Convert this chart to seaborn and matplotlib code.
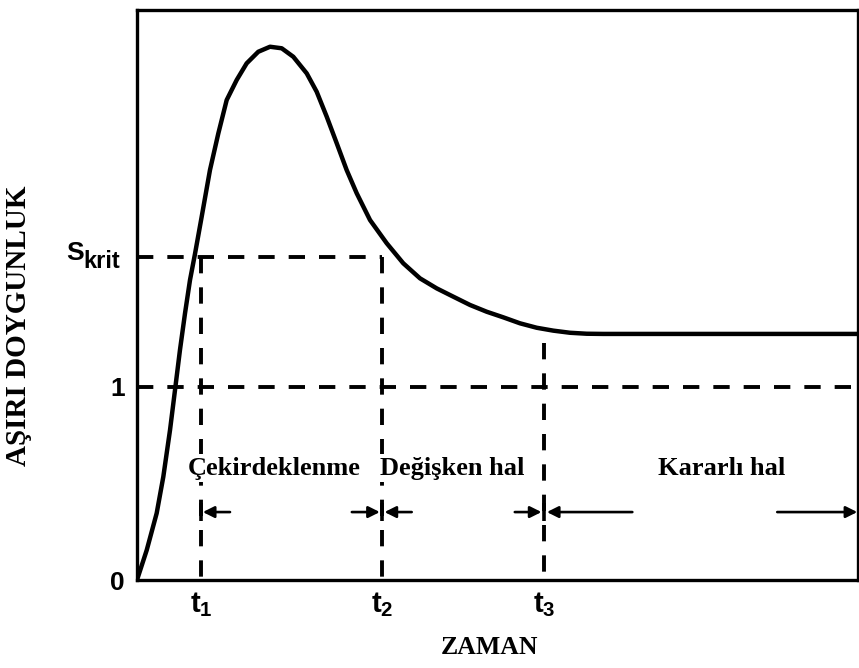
import matplotlib
matplotlib.use("Agg")
import matplotlib.pyplot as plt
import seaborn as sns
import pandas as pd

# Supersaturation vs. time (LaMer-type curve)
time = [0.00, 1.35, 2.73, 3.65, 4.58, 5.27, 5.96, 6.66, 7.35, 8.04, 8.97,
        10.12, 11.28, 12.44, 13.83, 15.21, 16.82, 18.45, 20.07, 21.68, 23.54,
        24.92, 26.31, 27.70, 29.08, 30.47, 32.32, 34.63, 36.93, 39.25, 41.57,
        43.87, 46.19, 48.50, 50.80, 53.12, 55.44, 57.74, 60.06, 62.37, 64.67,
        99.86]
supersaturation = [0.000, 0.155, 0.346, 0.535, 0.777, 0.984, 1.192, 1.382,
                   1.554, 1.689, 1.882, 2.124, 2.314, 2.487, 2.591, 2.677,
                   2.737, 2.763, 2.755, 2.711, 2.625, 2.530, 2.401, 2.263,
                   2.124, 2.004, 1.865, 1.745, 1.641, 1.563, 1.511, 1.468,
                   1.425, 1.390, 1.361, 1.330, 1.307, 1.292, 1.281, 1.276,
                   1.275, 1.275]

S_KRIT = 1.675
y_ticks = [0, 1, S_KRIT]
y_tick_labels = ["0", "1", ""]
s_krit_label = ("S", "krit")
t_marks = [8.88, 33.98, 56.45]
t_labels = ["t$_1$", "t$_2$", "t$_3$"]
phase_labels = ["Çekirdeklenme", "Değişken hal", "Kararlı hal"]
x_title = "ZAMAN"
y_title = "AŞIRI DOYGUNLUK"

sns.set_style("white")
plt.rcParams.update({
    "mathtext.default": "regular",
    "text.color": "black",
    "axes.labelcolor": "black",
    "xtick.color": "black",
    "ytick.color": "black",
})
plt.rcParams["font.family"] = ["Liberation Sans", "DejaVu Sans"]

df = pd.DataFrame({"t": time, "S": supersaturation})

W, H = 859, 668
fig = plt.figure(figsize=(W / 100, H / 100), dpi=100)
ax = fig.add_axes([137 / W, (H - 580) / H, (858 - 137) / W, (580 - 10) / H])

sns.lineplot(data=df, x="t", y="S", ax=ax, color="black", lw=3.2,
             estimator=None, sort=False, zorder=4)
for line in ax.lines:
    line.set_solid_joinstyle("round")
    line.set_solid_capstyle("round")

ax.set_xlim(0, 100)
ax.set_ylim(0, 570 / 193)

dash = dict(color="black", lw=2.8, dashes=(4.2, 3.6), zorder=2)
# horizontal guides
ax.plot([0, 100], [1, 1], **dash)
ax.plot([0, t_marks[1]], [S_KRIT, S_KRIT], **dash)
# vertical guides
ax.plot([t_marks[0], t_marks[0]], [S_KRIT, 0], **dash)
ax.plot([t_marks[1], t_marks[1]], [S_KRIT, 0], **dash)
ax.plot([t_marks[2], t_marks[2]], [1.23, 0], **dash)

# phase names
serif = ["Liberation Serif", "DejaVu Serif"]
phase_x = [19.0, 43.7, 81.1]
for name, xc in zip(phase_labels, phase_x):
    ax.text(xc, 0.58, name, ha="center", va="center", fontsize=19,
            fontweight="bold", family=serif, zorder=5,
            bbox=dict(facecolor="white", edgecolor="none", pad=1.5))

# phase boundary arrows
y_arr = 0.352
arrow_kw = dict(arrowstyle="-|>", color="black", lw=1.9, mutation_scale=17,
                shrinkA=0, shrinkB=0)
segments = [(12.9, t_marks[0] + 0.25), (29.8, t_marks[1] - 0.3),
            (38.1, t_marks[1] + 0.35), (52.4, t_marks[2] - 0.35),
            (68.7, t_marks[2] + 0.4), (88.8, 99.9)]
for tail, head in segments:
    ax.annotate("", xy=(head, y_arr), xytext=(tail, y_arr),
                arrowprops=arrow_kw, zorder=6)
for tm in t_marks:
    ax.plot([tm, tm], [y_arr - 0.045, y_arr + 0.045], color="black",
            lw=2.6, solid_capstyle="butt", zorder=6)

# axes frame and tick labels
for sp in ax.spines.values():
    sp.set_visible(True)
    sp.set_linewidth(2.4)
    sp.set_color("black")

ax.set_yticks(y_ticks)
ax.set_yticklabels(y_tick_labels)
ax.set_xticks(t_marks)
ax.set_xticklabels(t_labels)
ax.tick_params(axis="y", length=0, labelsize=19, pad=9)
ax.tick_params(axis="x", length=0, labelsize=21, pad=7)
for lab in ax.get_xticklabels() + ax.get_yticklabels():
    lab.set_fontweight("bold")

# critical supersaturation label, "krit" set lower than "S"
ax.annotate(s_krit_label[1], xy=(0, S_KRIT), xycoords=("axes fraction", "data"),
            xytext=(-12.5, -3.5), textcoords="offset points", ha="right",
            va="center", fontsize=17, fontweight="bold")
ax.annotate(s_krit_label[0], xy=(0, S_KRIT), xycoords=("axes fraction", "data"),
            xytext=(-38.5, 2.5), textcoords="offset points", ha="right",
            va="center", fontsize=19, fontweight="bold")

ax.set_xlabel("")
ax.set_ylabel("")
fig.text(490 / W, 1 - 647 / H, x_title, ha="center", va="center",
         fontsize=18.5, fontweight="bold", family=serif)
fig.text(19 / W, 1 - 326 / H, y_title, ha="center", va="center",
         rotation=90, fontsize=21, fontweight="bold", family=serif)

fig.savefig("out.png", dpi=100, facecolor="white")
